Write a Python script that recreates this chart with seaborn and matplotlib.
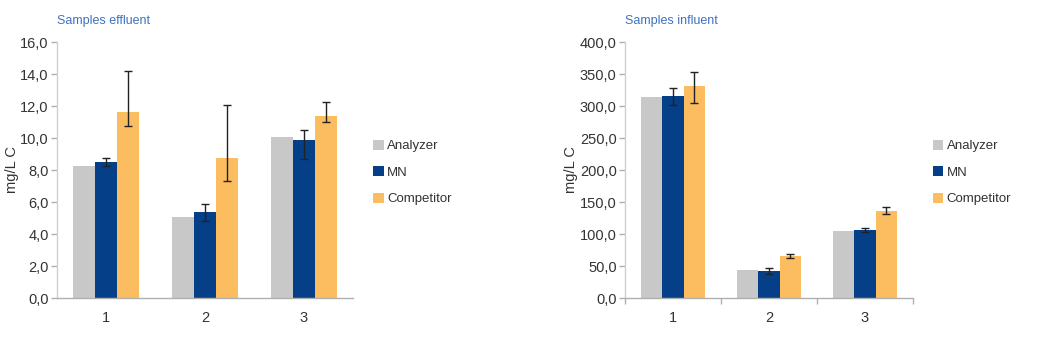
import numpy as np
import pandas as pd
import matplotlib
matplotlib.use("Agg")
import matplotlib.pyplot as plt
from matplotlib.ticker import FuncFormatter, FixedLocator
import seaborn as sns

# ---- data ----
samples = ["1", "2", "3"]
methods = ["Analyzer", "MN", "Competitor"]

eff_analyzer = [8.28, 5.07, 10.08]
eff_mn = [8.51, 5.38, 9.87]
eff_comp = [11.64, 8.76, 11.39]
eff_mn_lo = [8.26, 4.84, 8.70]
eff_mn_hi = [8.76, 5.88, 10.53]
eff_comp_lo = [10.74, 7.30, 11.01]
eff_comp_hi = [14.20, 12.08, 12.27]

inf_analyzer = [313.4, 43.3, 104.8]
inf_mn = [316.0, 41.7, 106.4]
inf_comp = [331.7, 65.2, 135.6]
inf_mn_lo = [302.0, 38.0, 102.7]
inf_mn_hi = [328.5, 46.9, 109.0]
inf_comp_lo = [305.0, 63.1, 132.0]
inf_comp_hi = [353.6, 68.3, 141.8]

titles = ["Samples effluent", "Samples influent"]
y_max = [16.0, 400.0]
y_step = [2.0, 50.0]

colors = ["#c8c8c8", "#053f88", "#fbbd5f"]

sns.set_theme(style="white")
plt.rcParams["font.family"] = ["Liberation Sans", "DejaVu Sans"]

fig = plt.figure(figsize=(10.5, 3.38), dpi=100)
axL = fig.add_axes([57 / 1050, 1 - 298 / 338, 296 / 1050, 256 / 338])
axR = fig.add_axes([625 / 1050, 1 - 298 / 338, 288 / 1050, 256 / 338])


def build(vals):
    rows = []
    for m, v in zip(methods, vals):
        for s, x in zip(samples, v):
            rows.append({"Sample": s, "Method": m, "Value": x})
    return pd.DataFrame(rows)


datasets = [
    (axL, [eff_analyzer, eff_mn, eff_comp], [(eff_mn_lo, eff_mn_hi), (eff_comp_lo, eff_comp_hi)], 0),
    (axR, [inf_analyzer, inf_mn, inf_comp], [(inf_mn_lo, inf_mn_hi), (inf_comp_lo, inf_comp_hi)], 1),
]

fmt = FuncFormatter(lambda v, p: f"{v:.1f}".replace(".", ","))
txt_col = "#333333"
fs = 10.5

for ax, vals, errs, i in datasets:
    df = build(vals)
    sns.barplot(data=df, x="Sample", y="Value", hue="Method", hue_order=methods,
                palette=colors, width=0.67, errorbar=None, saturation=1,
                linewidth=0, ax=ax)
    # error bars for MN and Competitor
    for k, (lo, hi) in zip([1, 2], errs):
        cont = ax.containers[k]
        xs = [p.get_x() + p.get_width() / 2 for p in cont.patches]
        ys = [p.get_height() for p in cont.patches]
        yerr = np.array([[y - l for y, l in zip(ys, lo)], [h - y for y, h in zip(ys, hi)]])
        ax.errorbar(xs, ys, yerr=yerr, fmt="none", ecolor="#222222",
                    elinewidth=1.0, capsize=3, capthick=1.0)
    ax.set_xlim(-0.5, 2.5)
    ax.set_ylim(0, y_max[i])
    ax.yaxis.set_major_locator(FixedLocator(np.arange(0, y_max[i] + 0.001, y_step[i])))
    ax.yaxis.set_major_formatter(fmt)
    ax.set_xlabel("")
    ax.set_ylabel("mg/L C", fontsize=fs, color=txt_col, labelpad=1)
    for sp in ["top", "right"]:
        ax.spines[sp].set_visible(False)
    ax.spines["left"].set_color("#d0d0d0")
    ax.spines["bottom"].set_color("#b0b0b0")
    ax.spines["left"].set_linewidth(1.0)
    ax.spines["bottom"].set_linewidth(1.0)
    ax.tick_params(axis="y", which="both", left=True, length=4, width=1,
                   color="#b0b0b0", labelsize=fs, labelcolor=txt_col, pad=2)
    ax.tick_params(axis="x", bottom=False, labelsize=fs, labelcolor=txt_col, pad=3)
    if i == 1:
        ax.set_xticks([0, 1, 2], minor=False)
        ax.set_xticks([-0.5, 0.5, 1.5, 2.5], minor=True)
        ax.tick_params(axis="x", which="minor", bottom=True, length=4, width=1,
                       color="#b0b0b0")
    ax.text(0.0, 1.06, titles[i], transform=ax.transAxes, fontsize=9,
            color="#3f72c0", ha="left", va="bottom")
    leg = ax.legend(loc="center left", bbox_to_anchor=(1.05, 0.49), frameon=False,
                    fontsize=9.5, handlelength=0.8, handleheight=0.8,
                    handletextpad=0.25, labelspacing=1.05, borderaxespad=0)
    for t in leg.get_texts():
        t.set_color(txt_col)

fig.savefig("out.png", dpi=100, facecolor="white")
